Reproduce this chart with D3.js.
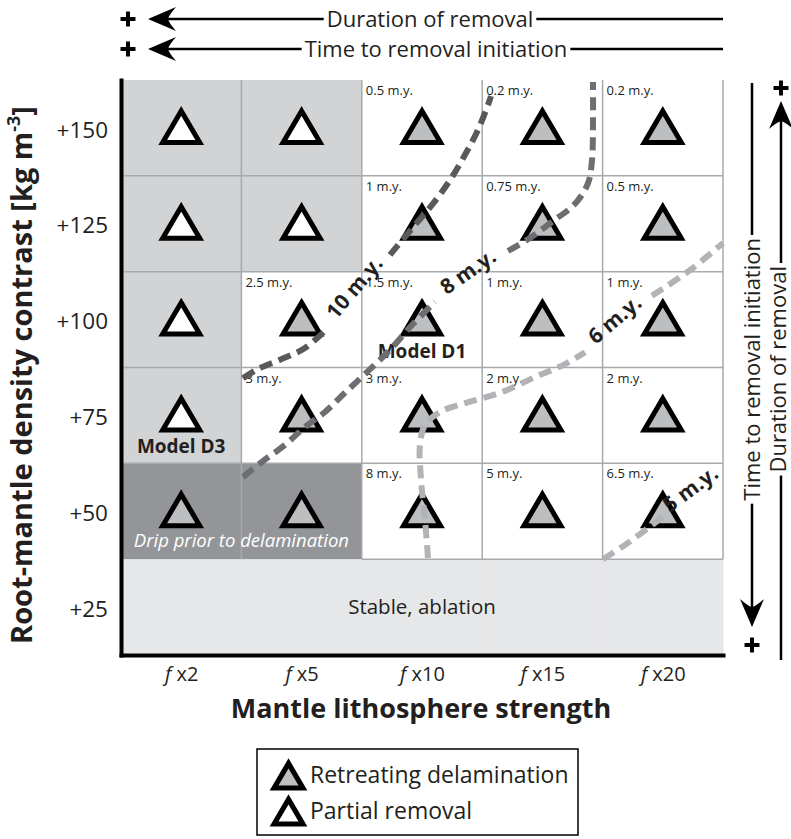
<!DOCTYPE html>
<html>
<head>
<meta charset="utf-8">
<script src="https://cdn.jsdelivr.net/npm/d3@7/dist/d3.min.js"></script>
<style>
  body { margin: 0; background: #fff; }
  svg { display: block; font-family: "Open Sans", "Noto Sans", sans-serif; }
</style>
</head>
<body>
<svg id="chart" width="791" height="839"></svg>
<script>
// ---- Data -----------------------------------------------------------------
// Mantle lithosphere strength multipliers (columns)
const strengths = ["2", "5", "10", "15", "20"];
// Root-mantle density contrast, kg m^-3 (rows, top to bottom)
const densities = [150, 125, 100, 75, 50, 25];

// Removal style per model (rows follow densities, columns follow strengths)
const regimes = [
  ["partial", "partial", "retreat", "retreat", "retreat"],
  ["partial", "partial", "retreat", "retreat", "retreat"],
  ["partial", "retreat", "retreat", "retreat", "retreat"],
  ["partial", "retreat", "retreat", "retreat", "retreat"],
  ["retreat", "retreat", "retreat", "retreat", "retreat"],
  [null, null, null, null, null]
];

// Background zone per model
const zones = [
  ["partialZone", "partialZone", "open", "open", "open"],
  ["partialZone", "partialZone", "open", "open", "open"],
  ["partialZone", "open", "open", "open", "open"],
  ["partialZone", "open", "open", "open", "open"],
  ["drip", "drip", "open", "open", "open"],
  ["stable", "stable", "stable", "stable", "stable"]
];

// Time to removal initiation, m.y.
const initiationTimes = [
  [null, null, "0.5", "0.2", "0.2"],
  [null, null, "1", "0.75", "0.5"],
  [null, "2.5", "1.5", "1", "1"],
  [null, "3", "3", "2", "2"],
  [null, null, "8", "5", "6.5"],
  [null, null, null, null, null]
];

// Reference models
const namedModels = [
  { name: "Model D1", density: 100, column: 2 },
  { name: "Model D3", density: 75, column: 0 }
];

// Duration-of-removal contours: [column position, density]; null = label gap
const contour10 = [[1.013, 84.7], [1.138, 87.1], [1.321, 89.5], [1.528, 92.6], [1.719, 97.8], null,
  [2.234, 116.9], [2.442, 124.7], [2.583, 129.9], [2.733, 136.4], [2.857, 143.0], [2.965, 149.5],
  [3.048, 156.0], [3.073, 158.3]];
const contour8 = [[1.013, 58.9], [1.171, 62.9], [1.362, 67.3], [1.528, 72.0], [1.694, 75.9],
  [1.860, 80.9], [2.043, 86.3], [2.234, 92.1], [2.417, 98.6], [2.608, 104.6], null,
  [3.214, 117.9], [3.397, 121.3], [3.588, 125.7], [3.771, 130.2], [3.879, 135.6], [3.912, 141.6],
  [3.920, 150.8], [3.920, 162.0]];
const contour6 = [[2.550, 37.8], [2.525, 47.7], [2.492, 58.2], [2.483, 67.3], [2.525, 72.5],
  [2.650, 75.9], [2.857, 78.2], [3.148, 80.9], [3.439, 85.0], [3.688, 88.4], [3.854, 91.5], null,
  [4.410, 106.2], [4.726, 112.9], [5.0, 120.0]];
const contour5 = [[4.003, 37.5], [4.186, 41.2], [4.377, 45.6], [4.518, 49.0], null, [5.0, 60.2]];
const contourLabels = ["10 m.y.", "8 m.y.", "6 m.y.", "5 m.y."];

const legendItems = [
  { regime: "retreat", label: "Retreating delamination" },
  { regime: "partial", label: "Partial removal" }
];

// ---- Layout & styles -----------------------------------------------------
const plot = { left: 121, right: 723, top: 80, bottom: 655 };
const ink = "#231f20";
const zoneFill = { partialZone: "#d1d3d4", open: "#ffffff", drip: "#939598", stable: "#e6e7e8" };
const triFill = { retreat: "#bcbec0", partial: "#ffffff" };
const contourColors = ["#58595b", "#6d6e71", "#b1b3b6", "#b1b3b6"];

const svg = d3.select("#chart");

const x = d3.scaleLinear().domain([0, strengths.length]).range([plot.left, plot.right]);
const y = d3.scaleLinear().domain([12.5, 162.5]).range([plot.bottom, plot.top]);
const colW = x(1) - x(0);
const rowH = y(0) - y(25);

// ---- Cells ---------------------------------------------------------------
const cells = [];
densities.forEach((d, r) => strengths.forEach((s, c) => {
  cells.push({ r, c, d, zone: zones[r][c], regime: regimes[r][c], time: initiationTimes[r][c] });
}));

svg.append("g").selectAll("rect").data(cells).join("rect")
  .attr("x", d => x(d.c)).attr("y", d => y(d.d + 12.5))
  .attr("width", colW + 0.5).attr("height", rowH + 0.5)
  .attr("fill", d => zoneFill[d.zone]);

// grid
const grid = svg.append("g").attr("stroke", "#a7a9ac").attr("stroke-width", 1.5);
d3.range(1, strengths.length + 1).forEach(c => {
  grid.append("line").attr("x1", x(c)).attr("x2", x(c))
    .attr("y1", plot.top).attr("y2", y(37.5));
});
[137.5, 112.5, 87.5, 62.5].forEach(v => {
  grid.append("line").attr("x1", plot.left).attr("x2", plot.right).attr("y1", y(v)).attr("y2", y(v));
});
grid.append("line").attr("x1", x(2)).attr("x2", plot.right).attr("y1", y(37.5)).attr("y2", y(37.5));

// zone captions
svg.append("text").attr("x", x(2.5)).attr("y", y(25) + 7)
  .attr("text-anchor", "middle").attr("font-size", 20.5).attr("fill", ink)
  .text("Stable, ablation");
svg.append("text").attr("x", x(1)).attr("y", y(50) + 36)
  .attr("text-anchor", "middle").attr("font-size", 18.5).attr("font-style", "italic")
  .attr("fill", "#ffffff").text("Drip prior to delamination");

// initiation times
svg.append("g").selectAll("text").data(cells.filter(d => d.time)).join("text")
  .attr("x", d => x(d.c) + 4).attr("y", d => y(d.d + 12.5) + 15)
  .attr("font-size", 13).attr("fill", ink)
  .text(d => d.time + " m.y.");

// triangles
const triPts = [[0, -17.5], [18.5, 14], [-18.5, 14]];
const triPath = "M" + triPts.map(p => p.join(",")).join("L") + "Z";
svg.append("g").selectAll("path").data(cells.filter(d => d.regime)).join("path")
  .attr("transform", d => `translate(${x(d.c + 0.5)},${y(d.d) + 0.5})`)
  .attr("d", triPath)
  .attr("fill", d => triFill[d.regime])
  .attr("stroke", "#000").attr("stroke-width", 5).attr("stroke-linejoin", "miter");

// named models
svg.append("g").selectAll("text").data(namedModels).join("text")
  .attr("x", d => x(d.column + 0.5)).attr("y", d => y(d.density) + 38)
  .attr("text-anchor", "middle").attr("font-size", 19).attr("font-weight", "bold")
  .attr("fill", ink).text(d => d.name);

// ---- Contours ------------------------------------------------------------
const contourLine = d3.line()
  .defined(p => p !== null)
  .x(p => x(p[0])).y(p => y(p[1]))
  .curve(d3.curveCatmullRom.alpha(0.5));

[contour10, contour8, contour6, contour5].forEach((pts, i) => {
  svg.append("path").attr("d", contourLine(pts))
    .attr("fill", "none").attr("stroke", contourColors[i])
    .attr("stroke-width", 6).attr("stroke-dasharray", "13 7");
  // label sits in the gap, turned along the line and lifted slightly off it
  const gap = pts.indexOf(null);
  const a = pts[gap - 1], b = pts[gap + 1];
  const ax = x(a[0]), ay = y(a[1]), bx = x(b[0]), by = y(b[1]);
  const ang = Math.atan2(by - ay, bx - ax) * 180 / Math.PI;
  svg.append("text")
    .attr("transform", `translate(${(ax + bx) / 2},${(ay + by) / 2}) rotate(${ang})`)
    .attr("text-anchor", "middle").attr("y", -6).attr("dy", "0.35em")
    .attr("font-size", 21).attr("font-weight", "bold").attr("fill", ink)
    .text(contourLabels[i]);
});

// ---- Axes ----------------------------------------------------------------
const yAxis = d3.axisLeft(y).tickValues(densities).tickFormat(d => "+" + d)
  .tickSize(0).tickPadding(13);
const gy = svg.append("g").attr("transform", `translate(${plot.left},2)`).call(yAxis);
gy.select(".domain").attr("stroke", "#000").attr("stroke-width", 4).attr("stroke-linecap", "square")
  .attr("transform", "translate(0,-2)");
gy.selectAll(".tick text").attr("font-size", 22.5).attr("fill", ink);

const xAxis = d3.axisBottom(x).tickValues(strengths.map((s, i) => i + 0.5))
  .tickFormat((d, i) => strengths[i]).tickSize(0).tickPadding(12);
const gx = svg.append("g").attr("transform", `translate(0,${plot.bottom})`).call(xAxis);
gx.select(".domain").attr("stroke", "#000").attr("stroke-width", 4).attr("stroke-linecap", "square");
gx.selectAll(".tick text").attr("font-size", 20).attr("fill", ink)
  .each(function (d, i) {
    const t = d3.select(this);
    t.text(null);
    t.append("tspan").attr("font-style", "italic").text("f");
    t.append("tspan").text(" x" + strengths[i]);
  });
svg.selectAll(".tick line").remove();
svg.selectAll("g[font-family]").attr("font-family", null);

svg.append("text").attr("x", (plot.left + plot.right) / 2 - 1).attr("y", 718)
  .attr("text-anchor", "middle").attr("font-size", 27).attr("font-weight", "bold").attr("fill", ink)
  .text("Mantle lithosphere strength");

const yt = svg.append("text")
  .attr("transform", `translate(22,375) rotate(-90)`)
  .attr("text-anchor", "middle").attr("dy", "0.35em")
  .attr("font-size", 29).attr("font-weight", "bold").attr("fill", ink);
yt.append("tspan").text("Root-mantle density contrast [kg m");
yt.append("tspan").attr("font-size", 18).attr("dy", "-0.7em").text("-3");
yt.append("tspan").attr("dy", "0.45em").text("]");

// ---- Trend arrows --------------------------------------------------------
const arrowHead = "M0,0L28,-12Q21,-4 20,0Q21,4 28,12Z";
const arrowFont = 22;
function plus(cx, cy) {
  svg.append("path").attr("d", `M${cx - 7.5},${cy}H${cx + 7.5}M${cx},${cy - 7.5}V${cy + 7.5}`)
    .attr("stroke", "#000").attr("stroke-width", 4);
}
function hArrow(cy, label, textCenter) {
  plus(128, cy);
  svg.append("path").attr("d", arrowHead).attr("transform", `translate(148,${cy})`).attr("fill", "#000");
  const t = svg.append("text").attr("x", textCenter).attr("y", cy).attr("dy", "0.35em")
    .attr("text-anchor", "middle").attr("font-size", arrowFont).attr("fill", ink).text(label);
  const w = t.node().getComputedTextLength();
  svg.append("line").attr("x1", 160).attr("x2", textCenter - w / 2 - 3).attr("y1", cy).attr("y2", cy)
    .attr("stroke", "#000").attr("stroke-width", 2.5);
  svg.append("line").attr("x1", textCenter + w / 2 + 3).attr("x2", plot.right).attr("y1", cy).attr("y2", cy)
    .attr("stroke", "#000").attr("stroke-width", 2.5);
}
hArrow(19, "Duration of removal", 430);
hArrow(49, "Time to removal initiation", 436);

function vArrow(cx, label, textTop, headAtTop, y0, y1, shift) {
  const t = svg.append("text")
    .attr("transform", `translate(${cx},${textTop}) rotate(-90)`)
    .attr("dy", shift).attr("text-anchor", "end").attr("font-size", arrowFont).attr("fill", ink).text(label);
  const w = t.node().getComputedTextLength();
  const line = (a, b) => svg.append("line").attr("x1", cx).attr("x2", cx).attr("y1", a).attr("y2", b)
    .attr("stroke", "#000").attr("stroke-width", 2.5);
  if (headAtTop) {
    plus(cx, y0 - 13);
    svg.append("path").attr("d", arrowHead).attr("transform", `translate(${cx},${y0}) rotate(90)`).attr("fill", "#000");
    line(y0 + 12, textTop - 3);
    line(textTop + w + 3, y1);
  } else {
    plus(cx, y1 + 18);
    svg.append("path").attr("d", arrowHead).attr("transform", `translate(${cx},${y1}) rotate(-90)`).attr("fill", "#000");
    line(y0, textTop - 3);
    line(textTop + w + 3, y1 - 12);
  }
}
vArrow(752, "Time to removal initiation", 238, false, 83, 627, "0.36em");
vArrow(781, "Duration of removal", 266, true, 101, 660, "0.22em");

// ---- Legend --------------------------------------------------------------
const lg = svg.append("g").attr("transform", "translate(257,749)");
lg.append("rect").attr("width", 321).attr("height", 86)
  .attr("fill", "#fff").attr("stroke", "#000").attr("stroke-width", 1.5);
lg.selectAll("g.item").data(legendItems).join("g").attr("class", "item")
  .attr("transform", (d, i) => `translate(0,${i * 36})`)
  .each(function (d) {
    const g = d3.select(this);
    g.append("path").attr("d", triPath).attr("transform", "translate(31.5,28) scale(0.78)")
      .attr("fill", triFill[d.regime]).attr("stroke", "#000").attr("stroke-width", 6.5);
    g.append("text").attr("x", 53).attr("y", 34).attr("font-size", 23).attr("fill", ink).text(d.label);
  });
</script>
</body>
</html>
